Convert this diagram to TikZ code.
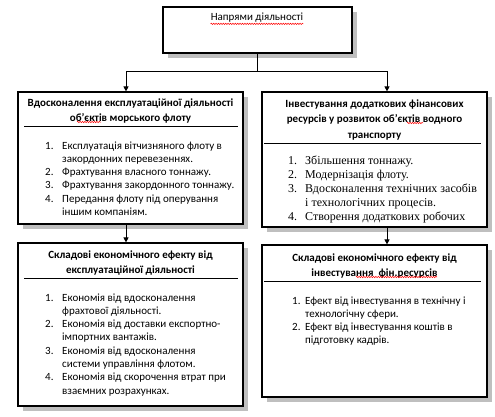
\documentclass[tikz,border=0pt]{standalone}
\usepackage{fontspec}
\setmainfont{Carlito}
\newfontfamily\timesfont{Liberation Serif}
\usetikzlibrary{arrows.meta,shadows,calc,decorations.pathmorphing}

\begin{document}
\begin{tikzpicture}[x=1pt, y=-1pt,
    box/.style={draw, line width=1.2pt, fill=white, inner sep=0, minimum width=225,
        drop shadow={shadow xshift=5pt, shadow yshift=-5pt, fill=black!25, opacity=1}},
    title/.style={font=\fontsize{11}{15.5}\selectfont\bfseries, align=center, inner sep=0, anchor=north},
    items/.style={font=\fontsize{11}{13.3}\selectfont, inner sep=0, anchor=north west},
    sep/.style={line width=0.8pt},
    squig/.style={red, line width=0.5pt, decorate, decoration={snake, amplitude=0.7pt, segment length=2.4pt}},
    arr/.style={line width=0.9pt, -{Triangle[length=5pt,width=5pt]}}]
    \useasboundingbox (0,0) rectangle (495,416);

    \node[box, minimum width=189, minimum height=46] (top) at (257.5,30) {};
    \node[box, minimum height=132] (lb1) at (130.5,158) {};
    \node[box, minimum height=135] (rb1) at (374.5,159.5) {};
    \node[box, minimum height=163] (lb2) at (130.5,324.5) {};
    \node[box, minimum height=152] (rb2) at (374.5,321) {};

    % Connectors
    \coordinate (split) at (257.5,71);
    \draw[line width=0.9pt] (top.south) -- (split);
    \draw[arr] (split) -| ([xshift=-4.5pt]lb1.north);
    \draw[arr] (split) -| ([xshift=12.5pt]rb1.north);
    \draw[arr] ([xshift=-4.5pt]lb1.south) -- ([xshift=-4.5pt]lb2.north);
    \draw[arr] ([xshift=12.5pt]rb1.south) -- ([xshift=12.5pt]rb2.north);

    % Titles
    \node[title, font=\fontsize{11}{15.5}\selectfont] (toptitle) at (257,9.8) {\strut Напрями діяльності};
    \node[title] (lb1title) at (130.5,95) {\strut Вдосконалення експлуатаційної діяльності\\об’єктів морського флоту};
    \node[title] (rb1title) at (374.5,96) {\strut Інвестування додаткових фінансових\\ресурсів у розвиток об’єктів водного\\транспорту};
    \node[title] (lb2title) at (130.5,247) {\strut Складові економічного ефекту від\\експлуатаційної діяльності};
    \node[title] (rb2title) at (374.5,250) {\strut Складові економічного ефекту від\\інвестування \ фін.ресурсів};

    % Spell-check marks
    \draw[squig] ($(toptitle.base west)+(0,3)$) -- ($(toptitle.base east)+(0,3)$);
    \draw[squig] (77,122) -- (101,122);
    \draw[squig] (407,123) -- (423,123);
    \draw[squig] (356,277) -- (437,277);

    \draw[sep] ($(lb1.north west)+(7,35)$) -- ($(lb1.north east)+(-6,35)$);
    \draw[sep] ($(rb1.north west)+(3,52)$) -- ($(rb1.north east)+(-7,52)$);
    \draw[sep] ($(lb2.north west)+(7,36)$) -- ($(lb2.north east)+(-6,36)$);
    \draw[sep] ($(rb2.north west)+(3,37)$) -- ($(rb2.north east)+(-7,37)$);

    % Lists
    \node[items] (lb1list) at (45,139.5) {\begin{tabular}{@{}p{17pt}@{}l@{}}
        1. & Експлуатація вітчизняного флоту в\\
           & закордонних перевезеннях.\\
        2. & Фрахтування власного тоннажу.\\
        3. & Фрахтування закордонного тоннажу.\\
        4. & Передання флоту під оперування\\
           & іншим компаніям.
    \end{tabular}};
    \node[items, font=\timesfont\fontsize{12}{14}\selectfont] (rb1list) at (288,154) {\begin{tabular}{@{}p{17pt}@{}l@{}}
        1. & Збільшення тоннажу.\\
        2. & Модернізація флоту.\\
        3. & Вдосконалення технічних засобів\\
           & і технологічних процесів.\\
        4. & Створення додаткових робочих
    \end{tabular}};
    \node[items] (lb2list) at (45,291.5) {\begin{tabular}{@{}p{17pt}@{}l@{}}
        1. & Економія від вдосконалення\\
           & фрахтової діяльності.\\
        2. & Економія від доставки експортно-\\
           & імпортних вантажів.\\
        3. & Економія від вдосконалення\\
           & системи управління флотом.\\
        4. & Економія від скорочення втрат при\\
           & взаємних розрахунках.
    \end{tabular}};
    \node[items, font=\fontsize{11}{13}\selectfont] (rb2list) at (292,294.7) {\begin{tabular}{@{}p{13pt}@{}l@{}}
        1. & Ефект від інвестування в технічну і\\
           & технологічну сфери.\\
        2. & Ефект від інвестування коштів в\\
           & підготовку кадрів.
    \end{tabular}};

\end{tikzpicture}
\end{document}
